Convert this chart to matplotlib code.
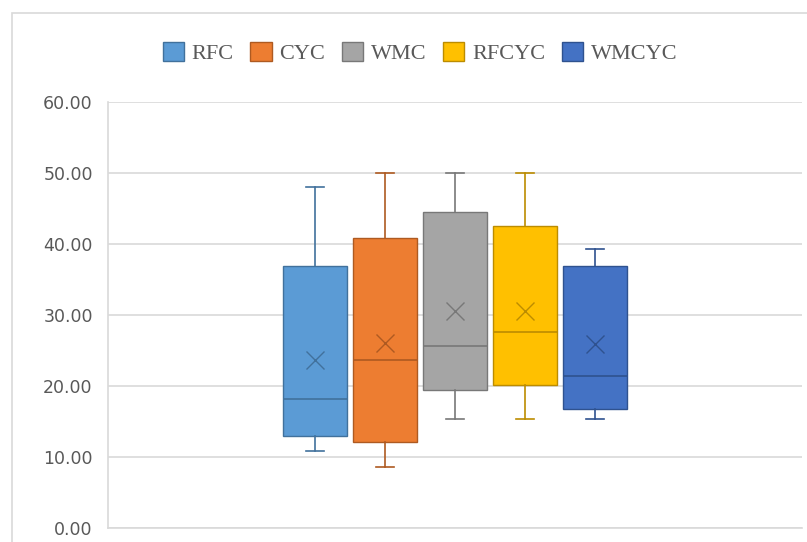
import matplotlib
matplotlib.use("Agg")
import matplotlib.pyplot as plt
from matplotlib.patches import Patch, Rectangle

# Summary statistics per model
series = ["RFC", "CYC", "WMC", "RFCYC", "WMCYC"]
whisker_low = [10.8, 8.6, 15.4, 15.4, 15.4]
q1 = [13.0, 12.1, 19.4, 20.1, 16.8]
median = [18.2, 23.7, 25.6, 27.6, 21.4]
q3 = [36.9, 40.9, 44.5, 42.5, 36.9]
whisker_high = [48.0, 50.0, 50.0, 50.0, 39.3]
mean = [23.6, 26.0, 30.6, 30.5, 25.9]
y_ticks = [0, 10, 20, 30, 40, 50, 60]

fill_colors = ["#5B9BD5", "#ED7D31", "#A5A5A5", "#FFC000", "#4472C4"]
line_colors = ["#41719C", "#AE5A21", "#787878", "#BC8C00", "#2F528F"]

W, H = 807, 542
fig = plt.figure(figsize=(W / 100, H / 100), dpi=100)
fig.patch.set_facecolor("white")

# chart frame
fig.add_artist(Rectangle((12 / W, -0.05), 1.2, (542 - 13) / H + 0.05,
                         transform=fig.transFigure, fill=False,
                         edgecolor="#D9D9D9", linewidth=1.2))

left, right, top, bottom = 108, 802, 102, 528
ax = fig.add_axes([left / W, 1 - bottom / H, (right - left) / W, (bottom - top) / H])

n = len(series)
positions = [i - (n - 1) / 2 for i in range(n)]
stats = []
for i in range(n):
    stats.append(dict(label=series[i], whislo=whisker_low[i], q1=q1[i],
                      med=median[i], q3=q3[i], whishi=whisker_high[i],
                      mean=mean[i], fliers=[]))

for i in range(n):
    ax.bxp([stats[i]], positions=[positions[i]], widths=0.91,
           patch_artist=True, showmeans=True, showfliers=False,
           boxprops=dict(facecolor=fill_colors[i], edgecolor=line_colors[i], linewidth=1.0),
           medianprops=dict(color=line_colors[i], linewidth=1.2),
           whiskerprops=dict(color=line_colors[i], linewidth=1.2),
           capprops=dict(color=line_colors[i], linewidth=1.2),
           capwidths=0.25,
           meanprops=dict(marker="x", markeredgecolor=line_colors[i],
                          markersize=13, markeredgewidth=1.0),
           zorder=3)

half = (right - left) / 70 / 2
ax.set_xlim(-half, half)
ax.set_ylim(0, 60)
ax.set_yticks(y_ticks)
ax.set_yticklabels([f"{v:.2f}" for v in y_ticks])
ax.set_xticks([])
ax.grid(axis="y", color="#D9D9D9", linewidth=1.2, zorder=0)
ax.set_axisbelow(True)
for s in ["top", "right"]:
    ax.spines[s].set_visible(False)
ax.spines["left"].set_color("#D9D9D9")
ax.spines["bottom"].set_color("#D9D9D9")
ax.spines["left"].set_linewidth(1.2)
ax.spines["bottom"].set_linewidth(1.2)
ax.tick_params(axis="y", length=0, pad=11, labelsize=12.5, labelcolor="#595959")
for lab in ax.get_yticklabels():
    lab.set_family("DejaVu Sans")

handles = [Patch(facecolor=fill_colors[i], edgecolor=line_colors[i], label=series[i])
           for i in range(n)]
leg = fig.legend(handles=handles, loc="center", bbox_to_anchor=(420 / W, 1 - 53 / H),
                 ncol=n, frameon=False, handlelength=0.95, handleheight=0.95,
                 handletextpad=0.35, columnspacing=0.75,
                 prop=dict(family="Liberation Serif", size=16))
for t in leg.get_texts():
    t.set_color("#595959")

fig.savefig("out.png", dpi=100, facecolor="white")
